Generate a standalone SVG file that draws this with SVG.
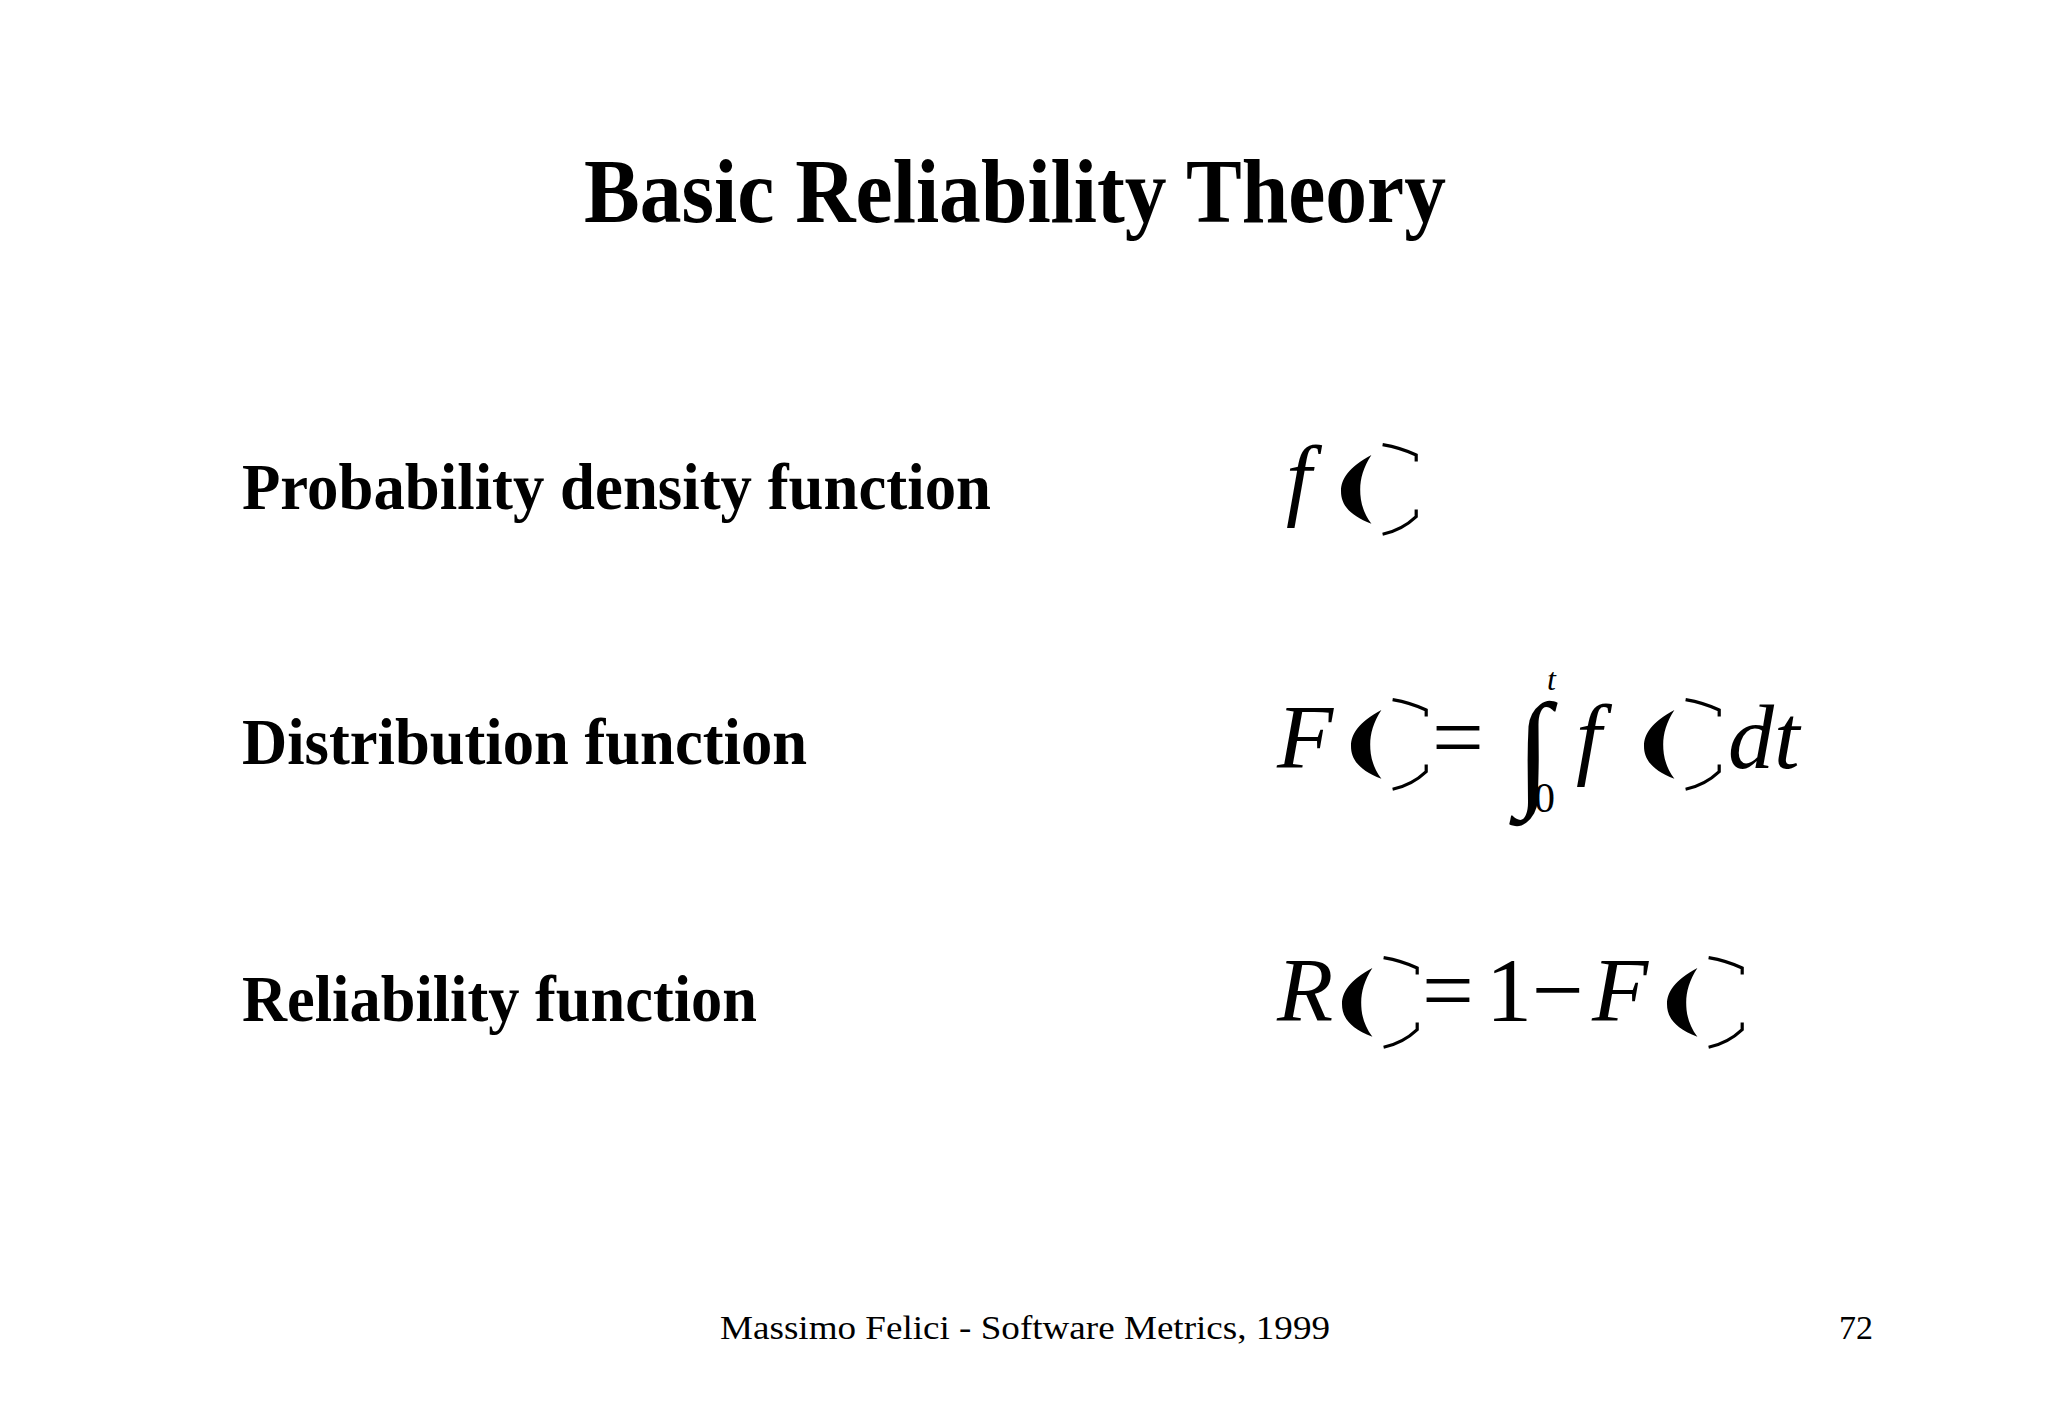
<svg xmlns="http://www.w3.org/2000/svg" width="2048" height="1418" viewBox="0 0 2048 1418">
<style>
.t{font-family:"Liberation Serif",serif;fill:#000}
.b{font-weight:bold}
.m{font-family:"Liberation Serif",serif;font-style:italic;font-size:92px}
.n{font-family:"Liberation Serif",serif;font-size:92px}
.br{fill:none;stroke:#000;stroke-width:4}
</style>
<defs>
<g id="par">
<path d="M38,0 C10,15 0,30 0,45 C0,62 10,75 38,86 C26,70 24,55 24,43 C24,30 28,15 38,0 Z" fill="#000"/>
<path class="br" d="M52,-13 Q75,-9 94,0 L94,8"/>
<path class="br" d="M52,99 Q76,94 94,77 L94,68"/>
</g>
</defs>
<rect width="2048" height="1418" fill="#fff"/>
<text class="t b" x="1015" y="222" font-size="92" text-anchor="middle" textLength="862" lengthAdjust="spacingAndGlyphs">Basic Reliability Theory</text>
<g id="row1">
<text class="t b" x="242" y="509" font-size="66" textLength="749" lengthAdjust="spacingAndGlyphs">Probability density function</text>
<text class="m" x="1286" y="509">f</text>
<use href="#par" transform="translate(1341,455) scale(0.8)"/>
</g>
<g id="row2">
<text class="t b" x="242" y="764" font-size="66" textLength="565" lengthAdjust="spacingAndGlyphs">Distribution function</text>
<text class="m" x="1277" y="768">F</text>
<use href="#par" transform="translate(1351,710) scale(0.8)"/>
<text class="n" x="1432" y="768">=</text>
<text class="t" x="1516" y="792" font-size="128">∫</text>
<text class="t" font-style="italic" x="1547" y="690" font-size="32">t</text>
<text class="t" x="1534" y="812" font-size="42">0</text>
<text class="m" x="1576" y="768">f</text>
<use href="#par" transform="translate(1644,710) scale(0.8)"/>
<text class="m" x="1728" y="768">dt</text>
</g>
<g id="row3">
<text class="t b" x="242" y="1021" font-size="66" textLength="515" lengthAdjust="spacingAndGlyphs">Reliability function</text>
<text class="m" x="1277" y="1021">R</text>
<use href="#par" transform="translate(1342,968) scale(0.8)"/>
<text class="n" x="1422" y="1021">=</text>
<text class="n" x="1486" y="1021">1</text>
<text class="n" x="1532" y="1021">−</text>
<text class="m" x="1592" y="1021">F</text>
<use href="#par" transform="translate(1667,968) scale(0.8)"/>
</g>
<text class="t" x="720" y="1339" font-size="34" textLength="610" lengthAdjust="spacingAndGlyphs">Massimo Felici - Software Metrics, 1999</text>
<text class="t" x="1839" y="1339" font-size="34">72</text>
</svg>
